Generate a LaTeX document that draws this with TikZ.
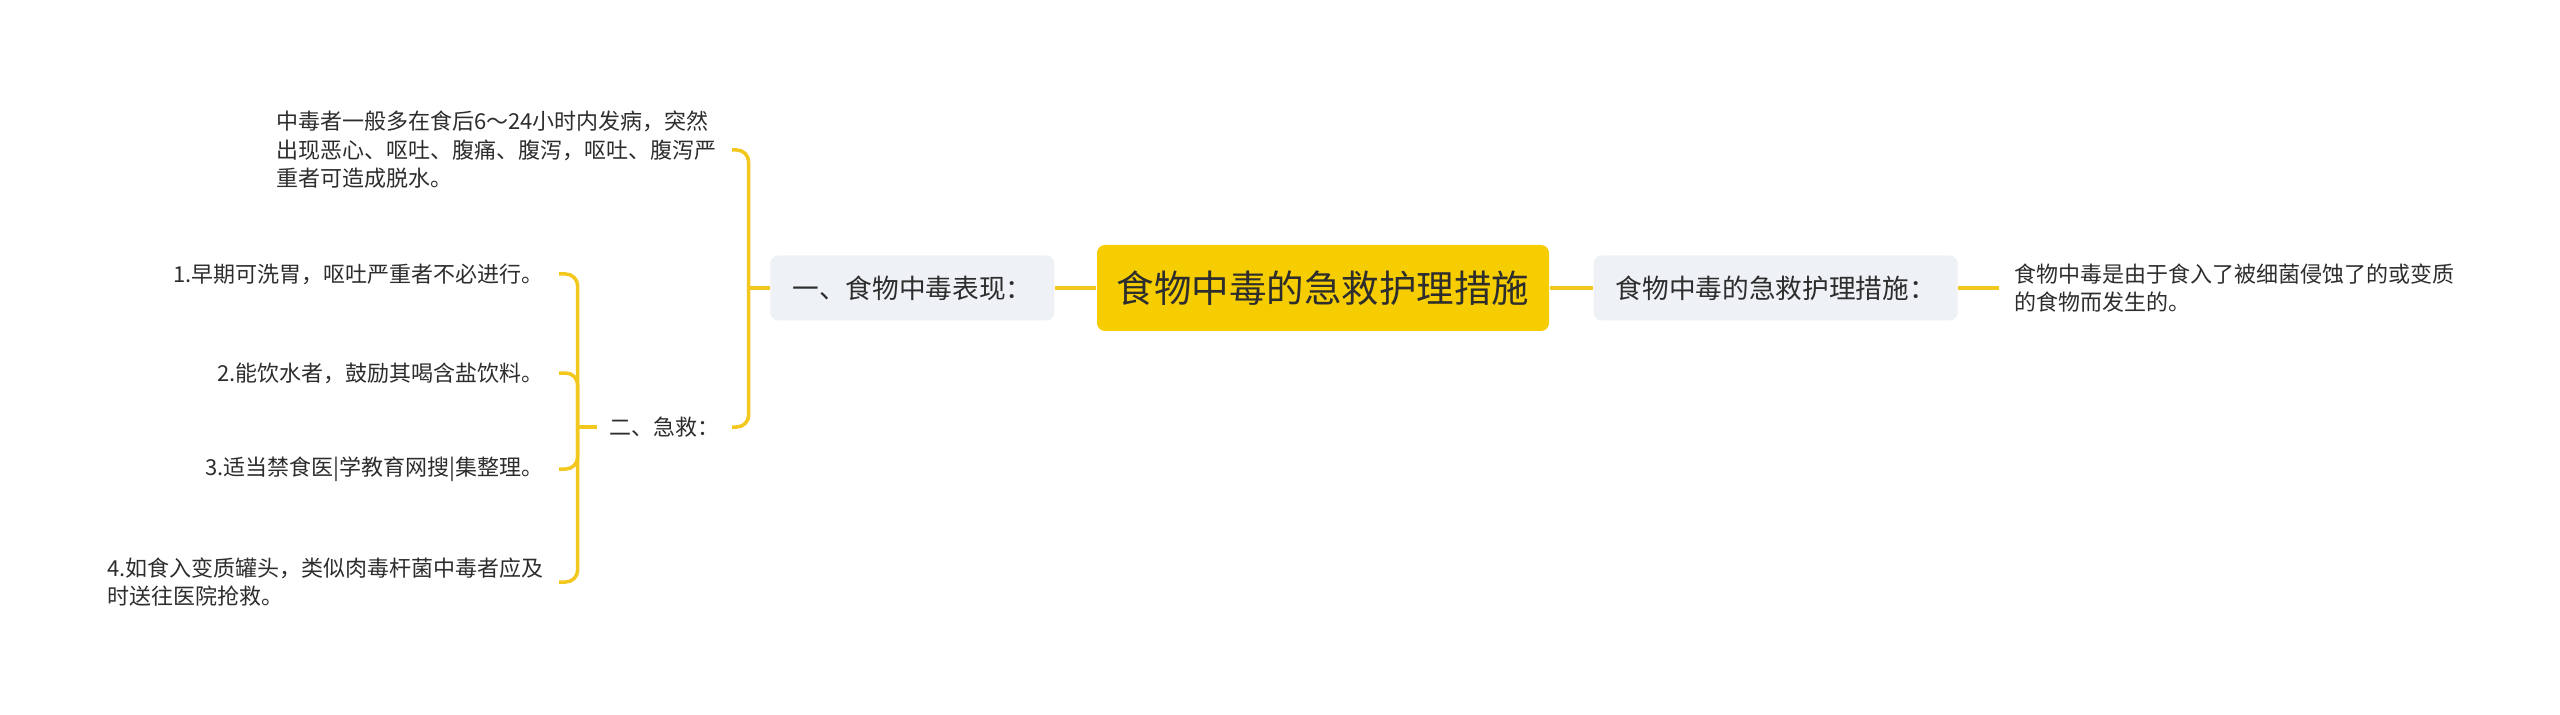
\documentclass[tikz,border=0pt]{standalone}
\usepackage{fontspec}
\setmainfont{Noto Sans CJK SC}

\definecolor{gold}{RGB}{246,205,0}
\definecolor{linegold}{RGB}{242,199,30}
\definecolor{boxgray}{RGB}{238,241,245}
\definecolor{ink}{RGB}{45,45,45}

\tikzset{
  rootbox/.style={fill=gold, rounded corners=2.4pt, minimum width=135.6pt,
    minimum height=25.8pt, inner sep=0pt, text=ink,
    font=\fontsize{11.25pt}{13pt}\selectfont},
  topicbox/.style={fill=boxgray, rounded corners=2.4pt, minimum height=19.5pt,
    inner xsep=6.6pt, inner ysep=0pt, text=ink,
    font=\fontsize{8pt}{10pt}\selectfont},
  leaf/.style={inner xsep=4.5pt, inner ysep=0pt, align=left, text=ink,
    font=\fontsize{6.6pt}{8.55pt}\selectfont},
  link/.style={draw=linegold, line width=1.05pt},
  elbow/.style={link, rounded corners=3.6pt}
}

\begin{document}
\begin{tikzpicture}[x=0.3pt, y=-0.3pt]
  % 1. Canvas
  \useasboundingbox (0,0) rectangle (2560,715);

  % 2. Main topics
  \node[rootbox] (root) at (1323,288) {食物中毒的急救护理措施};
  \node[topicbox, anchor=east] (show) at (1055,288) {一、食物中毒表现：};
  \node[topicbox, anchor=west] (cure) at (1593,288) {食物中毒的急救护理措施：};

  % 3. Leaves
  \node[leaf, anchor=west] (cause) at (1999,288)
    {食物中毒是由于食入了被细菌侵蚀了的或变质\\的食物而发生的。};
  \node[leaf, anchor=east] (sign) at (732,150)
    {中毒者一般多在食后6～24小时内发病，突然\\出现恶心、呕吐、腹痛、腹泻，呕吐、腹泻严\\重者可造成脱水。};
  \node[leaf, anchor=east, inner xsep=3.6pt] (aid) at (732,427) {二、急救：};
  \node[leaf, anchor=east] (aidA) at (559,274) {1.早期可洗胃，呕吐严重者不必进行。};
  \node[leaf, anchor=east] (aidB) at (559,373) {2.能饮水者，鼓励其喝含盐饮料。};
  \node[leaf, anchor=east] (aidC) at (559,469) {3.适当禁食医|学教育网搜|集整理。};
  \node[leaf, anchor=east] (aidD) at (559,582)
    {4.如食入变质罐头，类似肉毒杆菌中毒者应及\\时送往医院抢救。};

  % 4. Connectors
  \draw[link] (root.west) -- (show.east);
  \draw[link] (root.east) -- (cure.west);
  \draw[link] (cure.east) -- (cause.west);
  \draw[link] (show.west) -- ++(-21,0) coordinate (fork1);
  \foreach \n in {sign,aid} \draw[elbow] (fork1) |- (\n.east);
  \draw[link] (aid.west) -- ++(-19,0) coordinate (fork2);
  \foreach \n in {aidA,aidB,aidC,aidD} \draw[elbow] (fork2) |- (\n.east);
\end{tikzpicture}
\end{document}
